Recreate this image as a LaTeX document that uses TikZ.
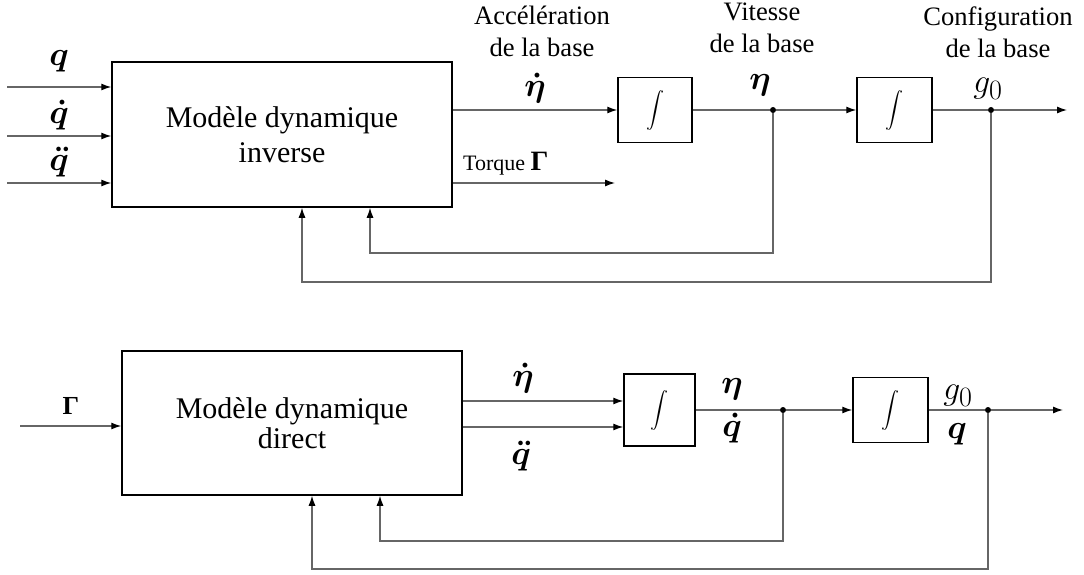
\documentclass[tikz,border=0pt]{standalone}
\usepackage{amsmath}
\usepackage{bm}
\usepackage[no-math]{fontspec}
\setmainfont{Liberation Serif}
\usetikzlibrary{arrows.meta}
\newcommand{\symb}[1]{\scalebox{1.35}{$#1$}}
\newcommand{\integ}{\scalebox{1.8}{$\displaystyle\int$}}

\begin{document}
\begin{tikzpicture}[x=1pt, y=-1pt,
  block/.style={draw, line width=1.5pt, inner sep=0pt, minimum width=340pt, minimum height=145pt, align=center, font=\fontsize{30}{35}\selectfont},
  int block/.style={draw, line width=1.5pt, inner sep=0pt, minimum width=74pt, minimum height=65pt, font=\fontsize{10}{12}\selectfont},
  sig/.style={draw=black!60, line width=1.2pt, -{Latex[length=10pt,width=7pt,color=black]}},
  wire/.style={draw=black!60, line width=1.2pt},
  junction/.style={circle, fill=black, inner sep=0pt, minimum size=6pt},
  caption node/.style={align=center, inner sep=0pt, font=\fontsize{26.6}{32}\selectfont},
  sym node/.style={inner sep=0pt, font=\fontsize{24.88}{28}\selectfont}]
\useasboundingbox (0,0) rectangle (1084,575);

% modele inverse
\node[block] (mdi) at (282,134.5) {Modèle dynamique\\inverse};
\node[int block] (int1) at (655,110) {\integ};
\node[int block, minimum width=75pt] (int2) at (894.5,110) {\integ};
\node[junction] (j1) at (773,110) {};
\node[junction] (j2) at (991,110) {};
\coordinate (out1) at (1067,110);
\coordinate (tq) at (615,183);
\coordinate (in1) at (7,87);
\coordinate (in2) at (7,136);
\coordinate (in3) at (7,183);
\coordinate (fb1) at (370,253);
\coordinate (fb2) at (302,282);

\node[sym node] (lq) at (59,61) {\symb{\bm{q}}};
\node[sym node] (lqd) at (59,115) {\symb{\bm{\dot q}}};
\node[sym node] (lqdd) at (59,162) {\symb{\bm{\ddot q}}};
\node[caption node, anchor=north] (acc) at (542,6) {Accélération\\de la base};
\node[sym node] (letad) at (535,88) {\symb{\bm{\dot\eta}}};
\node[caption node, anchor=north] (vit) at (762,3) {Vitesse\\de la base};
\node[sym node] (leta) at (760,85) {\symb{\bm{\eta}}};
\node[caption node, anchor=north] (conf) at (998,7) {Configuration\\de la base};
\node[sym node] (lg) at (988,89) {\symb{g_0}};
\node[anchor=base west, inner sep=0pt, font=\fontsize{22}{24}\selectfont] (torque) at (463,170) {Torque {\fontsize{28}{30}\selectfont\bfseries Γ}};

\draw[sig] (in1) -- (in1 -| mdi.west);
\draw[sig] (in2) -- (in2 -| mdi.west);
\draw[sig] (in3) -- (in3 -| mdi.west);
\draw[sig] (mdi.east |- int1.west) -- (int1.west);
\draw[sig] (mdi.east |- tq) -- (tq);
\draw[wire] (int1.east) -- (j1);
\draw[sig] (j1) -- (int2.west);
\draw[wire] (int2.east) -- (j2);
\draw[sig] (j2) -- (out1);
\draw[sig] (j1) |- (fb1) -- (fb1 |- mdi.south);
\draw[sig] (j2) |- (fb2) -- (fb2 |- mdi.south);

% modele direct
\node[block, minimum height=144pt, font=\fontsize{30}{30}\selectfont] (mdd) at (292,423) {Modèle dynamique\\direct};
\node[int block, minimum width=71pt, minimum height=72pt] (int3) at (659.5,410) {\integ};
\node[int block, minimum width=75pt] (int4) at (890.5,410) {\integ};
\node[junction] (j3) at (783,410) {};
\node[junction] (j4) at (988,410) {};
\coordinate (out2) at (1063,410);
\coordinate (in4) at (20,426);
\coordinate (d1) at ([yshift=9pt]int3.west);
\coordinate (d2) at ([yshift=-17pt]int3.west);
\coordinate (fb3) at (380,541);
\coordinate (fb4) at (312,569);

\node[font=\fontsize{26}{28}\selectfont\bfseries, inner sep=0pt] (lgam) at (71,406) {Γ};
\node[sym node] (letad2) at (523,378) {\symb{\bm{\dot\eta}}};
\node[sym node] (lqdd2) at (521,456) {\symb{\bm{\ddot q}}};
\node[sym node] (leta2) at (732,389) {\symb{\bm{\eta}}};
\node[sym node] (lqd2) at (732,428) {\symb{\bm{\dot q}}};
\node[sym node] (lg2) at (958,396) {\symb{g_0}};
\node[sym node] (lq2) at (957,434) {\symb{\bm{q}}};

\draw[sig] (in4) -- (in4 -| mdd.west);
\draw[sig] (mdd.east |- d1) -- (d1);
\draw[sig] (mdd.east |- d2) -- (d2);
\draw[wire] (int3.east) -- (j3);
\draw[sig] (j3) -- (int4.west);
\draw[wire] (int4.east) -- (j4);
\draw[sig] (j4) -- (out2);
\draw[sig] (j3) |- (fb3) -- (fb3 |- mdd.south);
\draw[sig] (j4) |- (fb4) -- (fb4 |- mdd.south);
\end{tikzpicture}
\end{document}
